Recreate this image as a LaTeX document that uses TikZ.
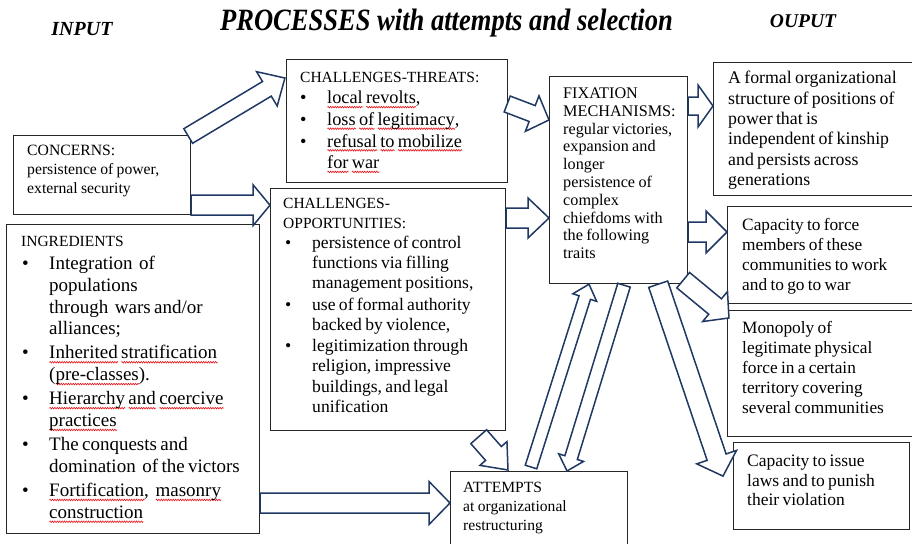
\documentclass[tikz,border=0pt]{standalone}
\usepackage{fontspec}
\setmainfont{Liberation Serif}
\usepackage{graphicx}
\usetikzlibrary{calc,decorations.pathmorphing}
\definecolor{navy}{HTML}{1F3864}
\definecolor{boxline}{HTML}{262626}
\definecolor{spell}{HTML}{E8141B}
\newbox\sqb
\newcommand\sq[1]{\setbox\sqb\hbox{#1}\rlap{\tikz[baseline=0pt,x=1pt,y=1pt]\draw[spell,line width=0.6pt,decorate,decoration={zigzag,amplitude=0.8pt,segment length=2.4pt}] (0,-3.3) -- (\the\wd\sqb,-3.3);}\box\sqb}
\newlength\bind \newlength\bdot
\newcommand\bi[2][0pt]{\par\vspace{#1}\noindent\makebox[\bind][l]{\hspace{\bdot}\textbullet}#2}
\newcommand\bc[1]{\par\noindent\hspace*{\bind}#1}
\newcommand\fz[2]{\fontsize{#1}{#2}\selectfont}
\newcommand\barrow[5]{%
  \draw[barrowst] let \p1=(#1), \p2=(#2), \n1={atan2(\y2-\y1,\x2-\x1)}, \n2={veclen(\x2-\x1,\y2-\y1)} in
   [shift={(\p1)}, rotate=\n1] (0,#3) -- ({\n2-#5},#3) -- ({\n2-#5},#4) -- (\n2,0) -- ({\n2-#5},-#4) -- ({\n2-#5},-#3) -- (0,-#3) -- cycle;}
\begin{document}
\begin{tikzpicture}[x=1pt,y=-1pt,
  box/.style={draw=boxline, line width=1.2pt, fill=white, inner sep=0pt, anchor=north west},
  txt/.style={anchor=north west, inner sep=0pt, text width=#1, align=left},
  hdr/.style={inner sep=0pt, anchor=base, font=\bfseries\itshape},
  barrowst/.style={draw=navy, line width=1.5pt, fill=white, line join=miter}]
\useasboundingbox (0,0) rectangle (912,543);
\clip (0,0) rectangle (912,543);
\fill[white] (0,0) rectangle (912,543);

% headers
\node[hdr] (title) at (446.5,31) {\fz{31}{31}\scalebox{0.856}[1]{PROCESSES with attempts and selection}};
\node[hdr] (input) at (82,36) {\fz{20}{20}INPUT};
\node[hdr] (output) at (803,28) {\fz{19.5}{20}OUPUT};

% boxes
\node[box, minimum width=177pt, minimum height=79pt] (concerns) at (13,135) {};
\node[box, minimum width=253pt, minimum height=309pt] (ingr) at (6,224) {};
\node[box, minimum width=221pt, minimum height=123pt] (threats) at (286,59) {};
\node[box, minimum width=235pt, minimum height=242pt] (opps) at (270,188) {};
\node[box, minimum width=138pt, minimum height=207pt] (fix) at (549,76) {};
\node[box, minimum width=205pt, minimum height=133pt] (out1) at (713,62) {};
\node[box, minimum width=190pt, minimum height=97pt] (out2) at (727,206) {};
\node[box, minimum width=190pt, minimum height=126pt] (out3) at (727,310) {};
\node[box, minimum width=176pt, minimum height=87pt] (out4) at (733,442) {};
\node[box, minimum width=177pt, minimum height=80pt] (att) at (450,471) {};

% texts
\node[txt=170pt] (concernsT) at ($(concerns.north west)+(14,6.7)$)
  {\fz{15.7}{19}\strut CONCERNS:\par persistence of power,\par external security\par};
\node[txt=215pt] (threatsT) at ($(threats.north west)+(14,7.9)$)
  {\setlength\bind{27pt}\setlength\bdot{0pt}%
   {\fz{15.5}{21.6}\strut CHALLENGES-THREATS:\par}
   \fz{18.3}{21.6}%
   \bi{\sq{local} \sq{revolts},}
   \bi{\sq{loss} \sq{of} \sq{legitimacy},}
   \bi{\sq{refusal} \sq{to} \sq{mobilize}}
   \bc{\sq{for} \sq{war}}\par};
\node[txt=245pt] (ingrT) at ($(ingr.north west)+(15,6.7)$)
  {\setlength\bind{28pt}\setlength\bdot{1pt}%
   {\fz{15.5}{21.8}\strut INGREDIENTS\par}
   \fz{19}{21.8}%
   \bi[1.5pt]{Integration \ of}
   \bc{populations}
   \bc{through \ wars and/or}
   \bc{alliances;}
   \bi[2.3pt]{\sq{Inherited} \sq{stratification}}
   \bc{(\sq{pre-classes}).}
   \bi[2.3pt]{\sq{Hierarchy} \sq{and} \sq{coercive}}
   \bc{\sq{practices}}
   \bi[2.3pt]{The conquests and}
   \bc{domination \ of the victors}
   \bi[2.3pt]{\sq{Fortification}, \ \sq{masonry}}
   \bc{\sq{construction}}\par};
\node[txt=230pt] (oppsT) at ($(opps.north west)+(13,5.9)$)
  {\setlength\bind{29pt}\setlength\bdot{2pt}%
   {\fz{15.5}{20.1}\strut CHALLENGES-\par OPPORTUNITIES:\par}
   \fz{17.6}{20.1}%
   \bi{persistence of control}
   \bc{functions via filling}
   \bc{management positions,}
   \bi[1.5pt]{use of formal authority}
   \bc{backed by violence,}
   \bi[1.5pt]{legitimization through}
   \bc{religion, impressive}
   \bc{buildings, and legal}
   \bc{unification}\par};
\node[txt=135pt] (fixT) at ($(fix.north west)+(14,9.8)$)
  {\fz{16.2}{17.8}\strut FIXATION\par MECHANISMS:\par regular victories,\par expansion and\par longer\par persistence of\par complex\par chiefdoms with\par the following\par traits\par};
\node[txt=200pt] (out1T) at ($(out1.north west)+(15,7.2)$)
  {\fz{17.8}{20.4}\strut A formal organizational\par structure of positions of\par power that is\par independent of kinship\par and persists across\par generations\par};
\node[txt=180pt] (out2T) at ($(out2.north west)+(15,10.5)$)
  {\fz{17.3}{20}\strut Capacity to force\par members of these\par communities to work\par and to go to war\par};
\node[txt=180pt] (out3T) at ($(out3.north west)+(15,9.5)$)
  {\fz{17.3}{20}\strut Monopoly of\par legitimate physical\par force in a certain\par territory covering\par several communities\par};
\node[txt=170pt] (out4T) at ($(out4.north west)+(14,10.85)$)
  {\fz{17.5}{19.5}\strut Capacity to issue\par laws and to punish\par their violation\par};
\node[txt=170pt] (attT) at ($(att.north west)+(13,7.7)$)
  {\fz{15.6}{19}\strut ATTEMPTS\par at organizational\par restructuring\par};

% arrow end points
\coordinate (a1s) at ($(concerns.north east)+(-3,1)$);
\coordinate (a1e) at ($(threats.north west)+(-1,19)$);
\coordinate (a2s) at ($(concerns.south east)+(0,-10)$);
\coordinate (a2e) at (opps.west |- a2s);
\coordinate (a3s) at ($(threats.north east)+(-1,45)$);
\coordinate (a3e) at ($(fix.north west)+(0,44)$);
\coordinate (a4s) at ($(opps.north east)+(0,30)$);
\coordinate (a4e) at (fix.west |- a4s);
\coordinate (a5s) at ($(fix.north east)+(0,30)$);
\coordinate (a5e) at (out1.west |- a5s);
\coordinate (a6s) at ($(fix.north east)+(0,156)$);
\coordinate (a6e) at (out2.west |- a6s);
\coordinate (a7s) at ($(fix.south east)+(-5,-4)$);
\coordinate (a7e) at ($(out3.north west)+(2,8)$);
\coordinate (a8s) at ($(fix.south east)+(-30,0)$);
\coordinate (a8e) at ($(out4.west)+(-10,-10)$);
\coordinate (a9s) at ($(att.north west)+(81,-4)$);
\coordinate (a9e) at ($(fix.south west)+(40,0)$);
\coordinate (a10s) at ($(fix.south west)+(75,1)$);
\coordinate (a10e) at ($(att.north west)+(117,0)$);
\coordinate (a11s) at ($(opps.south east)+(-27.5,5.5)$);
\coordinate (a11e) at ($(att.north west)+(58,-1)$);
\coordinate (a12s) at ($(ingr.north east)+(0,279)$);
\coordinate (a12e) at (att.west |- a12s);

% block arrows
\barrow{a1s}{a1e}{8.5}{20}{21}
\barrow{a2s}{a2e}{10}{20.5}{17}
\barrow{a3s}{a3e}{8.5}{19}{18}
\barrow{a4s}{a4e}{10}{20}{21}
\barrow{a5s}{a5e}{9}{21}{15}
\barrow{a6s}{a6e}{10}{21}{21}
\barrow{a7s}{a7e}{10}{19.5}{18}
\barrow{a8s}{a8e}{10}{21}{20}
\barrow{a9s}{a9e}{6}{12.5}{14}
\barrow{a10s}{a10e}{6.5}{13}{14}
\barrow{a11s}{a11e}{10.5}{18}{22}
\barrow{a12s}{a12e}{10}{21.5}{21}
\end{tikzpicture}
\end{document}
